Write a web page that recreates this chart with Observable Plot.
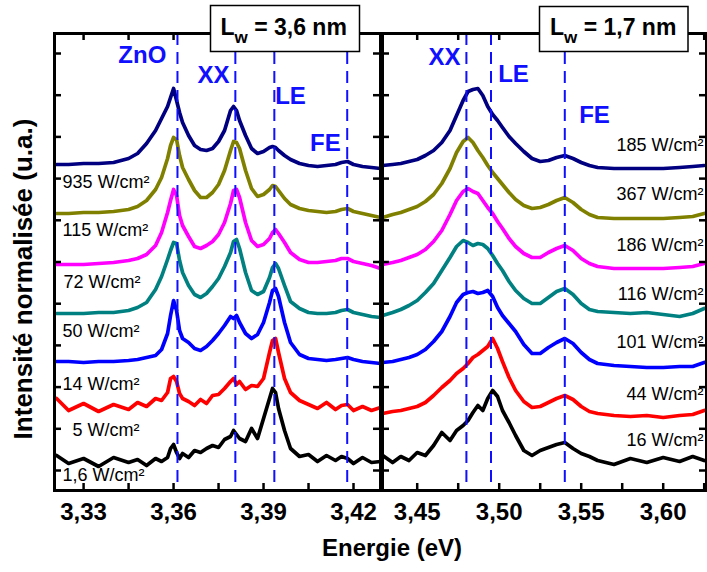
<!DOCTYPE html>
<html><head><meta charset="utf-8">
<script src="https://cdn.jsdelivr.net/npm/d3@7"></script>
<script src="https://cdn.jsdelivr.net/npm/@observablehq/plot@0.6"></script>
<style>
html,body{margin:0;padding:0;background:#fff;}
#wrap{position:relative;width:707px;height:572px;overflow:hidden;background:#fff;font-family:"Liberation Sans",Arial,sans-serif;}
#wrap svg{position:absolute;left:0;top:0;}
</style></head>
<body><div id="wrap"></div>
<script>
// ---------- data (intensity in arbitrary units, stacked as in the figure) ----------
const energyLeft = [3.321,3.325,3.330,3.335,3.340,3.345,3.348,3.351,3.354,3.356,3.358,3.359,3.360,3.361,3.362,3.363,3.365,3.367,3.369,3.371,3.373,3.375,3.377,3.379,3.380,3.381,3.382,3.384,3.386,3.388,3.390,3.392,3.393,3.394,3.395,3.397,3.399,3.402,3.405,3.408,3.411,3.414,3.416,3.418,3.420,3.423,3.426,3.429];
const left935 = [306,306,307,307,308,312,317,327,340,352,364,373,382,370,358,348,335,325,321,320,322,329,340,360,364,360,350,335,322,317,319,323,324,323,320,315,311,307,305,304,305,306,308,309,306,304,303,302];
const left115 = [257,257,258,258,259,261,264,270,281,293,312,325,333,331,315,303,291,280,273,273,278,286,300,320,329,328,322,300,282,274,276,281,285,284,280,272,266,262,260,259,258,259,261,262,259,257,255,253];
const left72 = [206,206,206,207,208,210,212,216,225,238,258,270,281,275,255,245,234,224,222,225,229,236,248,267,280,281,273,248,230,224,226,232,238,241,237,228,218,211,208,208,209,210,212,212,209,207,205,202];
const left50 = [157,157,157,158,158,160,163,168,181,194,211,220,228,227,210,198,185,176,173,177,184,192,204,218,229,231,222,198,180,176,179,193,203,207,202,185,169,162,158,157,157,158,160,161,158,156,154,153];
const left14 = [109,109,108,109,109,110,111,113,115,121,137,155,170,160,140,132,128,122,120,124,130,137,145,154,152,155,148,137,132,136,148,168,180,182,174,148,128,116,112,111,110,111,112,113,111,109,108,107];
const left5 = [72,60,67,59,66,61,68,64,72,70,78,92,94,89,77,72,69,65,71,67,75,76,82,89,92,86,89,81,85,84,92,118,130,132,118,92,78,70,66,62,68,61,65,66,60,64,60,63];
const left16 = [15,7,12,4,13,8,11,5,12,9,13,22,26,18,12,17,13,20,18,22,25,23,31,34,40,36,32,29,42,32,52,72,82,78,62,40,22,14,16,9,15,10,14,12,7,13,8,9];

const energyRight = [3.429,3.435,3.440,3.445,3.450,3.455,3.460,3.465,3.470,3.474,3.478,3.481,3.484,3.487,3.490,3.493,3.496,3.499,3.502,3.506,3.510,3.515,3.520,3.525,3.530,3.535,3.540,3.545,3.550,3.555,3.560,3.570,3.580,3.590,3.600,3.610,3.618,3.625];
const right185 = [305,306,307,309,311,315,320,328,340,355,370,379,381,382,375,364,356,350,343,334,327,319,312,309,310,313,315,312,308,305,303,302,302,302,302,303,304,305];
const right367 = [253,256,258,261,264,269,276,287,302,318,329,333,328,320,313,305,298,292,286,278,271,265,262,263,266,270,273,268,261,256,253,252,252,252,252,253,254,257];
const right186 = [206,208,210,213,216,221,229,240,256,270,279,282,279,277,270,263,257,249,242,232,224,217,213,213,218,222,225,220,212,207,204,202,202,202,202,203,204,207];
const right116 = [155,158,161,165,170,178,187,200,213,224,230,228,225,227,226,222,215,207,200,189,180,172,167,167,173,179,182,176,167,161,159,158,157,158,156,154,157,162];
const right101 = [108,109,111,113,116,121,129,139,154,168,176,178,179,177,178,180,174,163,155,147,139,126,117,117,123,128,132,127,118,111,107,105,104,103,103,104,104,108];
const right44 = [57,59,60,62,64,68,75,83,90,97,102,107,113,116,120,124,132,122,109,93,80,69,63,64,68,72,75,71,64,59,57,55,54,55,53,55,56,60];
const right16 = [15,8,14,10,18,15,25,38,30,40,45,50,58,65,60,72,80,74,60,48,35,20,15,20,23,26,28,22,17,14,10,6,12,8,13,9,14,10];

const seriesColors = ["#000080","#808000","#ff00ff","#008080","#0000ff","#ff0000","#000000"];
const leftSeries = [left935,left115,left72,left50,left14,left5,left16];
const rightSeries = [right185,right367,right186,right116,right101,right44,right16];

const leftPowerText = ["935 W/cm²","115 W/cm²","72 W/cm²","50 W/cm²","14 W/cm²","5 W/cm²","1,6 W/cm²"];
const leftPowerE = [3.3230,3.3230,3.3233,3.3230,3.3230,3.3263,3.3230];
const leftPowerI = [288,240,188,139,86,40,-5];
const rightPowerText = ["185 W/cm²","367 W/cm²","186 W/cm²","116 W/cm²","101 W/cm²","44 W/cm²","16 W/cm²"];
const rightPowerE = [3.6246,3.6246,3.6246,3.6246,3.6246,3.6246,3.6246];
const rightPowerI = [325,276,225,176,128,76,30];

const leftPeakText = ["ZnO","XX","LE","FE"];
const leftPeakLabelE = [3.3496,3.3733,3.3990,3.4106];
const leftPeakLabelI = [415,395,374,327];
const leftPeakLineE = [3.3613,3.3806,3.3936,3.4179];
const rightPeakText = ["XX","LE","FE"];
const rightPeakLabelE = [3.4666,3.5087,3.5581];
const rightPeakLabelI = [413,396,355];
const rightPeakLineE = [3.480,3.495,3.540];

const leftTickLabels = [3.33,3.36,3.39,3.42];
const leftTicks = [3.33,3.345,3.36,3.375,3.39,3.405,3.42];
const rightTickLabels = [3.45,3.50,3.55,3.60];
const rightTicks = [3.45,3.475,3.50,3.525,3.55,3.575,3.60,3.625];
const yTicks = [0,41.7,83.4,125.1,166.8,208.5,250.2,291.9,333.6,375.3,417];

const panelTitles = ["3,6 nm","1,7 nm"];
const xTitle = "Energie (eV)";
const yTitle = "Intensité normalisée (u.a.)";

// ---------- drawing ----------
const W = 707, H = 572, MT = 33, MB = 82;
const fmt = d => d.toFixed(2).replace(".", ",");
const font = '"Liberation Sans", Arial, sans-serif';

function panel({ml, mr, xdom, E, series, powerText, powerE, powerI, anchor, peakText, peakE, peakI, lineE, tickLabels, ticks}) {
  const pw = W - ml - mr, ph = H - MT - MB;
  const marks = [];
  series.forEach((vals, k) => {
    marks.push(Plot.line(E, {x: E, y: vals, stroke: seriesColors[k], strokeWidth: 3.7, strokeLinejoin: "round", curve: "linear"}));
  });
  marks.push(Plot.ruleX(lineE, {x: d => d, stroke: "#1010ff", strokeWidth: 2, strokeDasharray: "12,7"}));
  marks.push(Plot.text(peakText, {x: peakE, y: peakI, text: d => d, fill: "#1010ff", fontSize: 24, fontWeight: "bold", lineAnchor: "middle", textAnchor: "middle"}));
  marks.push(Plot.text(powerText, {x: powerE, y: powerI, text: d => d, fill: "#000", fontSize: 18, lineAnchor: "middle", textAnchor: anchor}));
  marks.push(Plot.tickX(ticks, {x: d => d, insetTop: ph - 7, stroke: "#000", strokeWidth: 2.5}));
  marks.push(Plot.tickX(ticks, {x: d => d, insetBottom: ph - 7, stroke: "#000", strokeWidth: 2.5}));
  marks.push(Plot.tickY(yTicks, {y: d => d, insetRight: pw - 7, stroke: "#000", strokeWidth: 2.5}));
  marks.push(Plot.tickY(yTicks, {y: d => d, insetLeft: pw - 7, stroke: "#000", strokeWidth: 2.5}));
  marks.push(Plot.text(tickLabels, {x: d => d, frameAnchor: "bottom", dy: 12, lineAnchor: "top", text: fmt, fontSize: 24, fontWeight: "bold", fill: "#000"}));
  marks.push(Plot.frame({stroke: "#000", strokeWidth: 3}));
  return Plot.plot({
    width: W, height: H, marginLeft: ml, marginRight: mr, marginTop: MT, marginBottom: MB,
    x: {domain: xdom, axis: null},
    y: {domain: [-20, 437], axis: null},
    style: {background: "transparent", overflow: "visible", fontFamily: font},
    marks
  });
}

const wrap = document.getElementById("wrap");
wrap.appendChild(panel({ml: 54, mr: 327, xdom: [3.3203, 3.4290], E: energyLeft, series: leftSeries,
  powerText: leftPowerText, powerE: leftPowerE, powerI: leftPowerI, anchor: "start",
  peakText: leftPeakText, peakE: leftPeakLabelE, peakI: leftPeakLabelI, lineE: leftPeakLineE,
  tickLabels: leftTickLabels, ticks: leftTicks}));
wrap.appendChild(panel({ml: 382, mr: 1, xdom: [3.42884, 3.62640], E: energyRight, series: rightSeries,
  powerText: rightPowerText, powerE: rightPowerE, powerI: rightPowerI, anchor: "end",
  peakText: rightPeakText, peakE: rightPeakLabelE, peakI: rightPeakLabelI, lineE: rightPeakLineE,
  tickLabels: rightTickLabels, ticks: rightTicks}));

// overlay: panel title boxes and axis titles
const ov = d3.select(wrap).append("svg").attr("width", W).attr("height", H)
  .style("font-family", font);
const boxes = [{x: 210.5, y: 5.5, w: 149, h: 46, tx: 220.5}, {x: 539.5, y: 6.5, w: 148.5, h: 45, tx: 550}];
boxes.forEach((b, i) => {
  ov.append("rect").attr("x", b.x).attr("y", b.y).attr("width", b.w).attr("height", b.h)
    .attr("fill", "#fff").attr("stroke", "#000").attr("stroke-width", 1.5);
  const t = ov.append("text").attr("x", b.tx).attr("y", 35).attr("font-size", 23).attr("font-weight", "bold").attr("fill", "#000");
  t.append("tspan").text("L");
  t.append("tspan").attr("font-size", 17).attr("dy", 8).text("w");
  t.append("tspan").attr("dy", -8).text(" = " + panelTitles[i]);
});
ov.append("text").attr("x", 392).attr("y", 556).attr("text-anchor", "middle")
  .attr("font-size", 24).attr("font-weight", "bold").attr("fill", "#000").text(xTitle);
ov.append("text").attr("transform", "translate(32,279) rotate(-90)").attr("text-anchor", "middle")
  .attr("font-size", 26).attr("font-weight", "bold").attr("fill", "#000").text(yTitle);
</script></body></html>
